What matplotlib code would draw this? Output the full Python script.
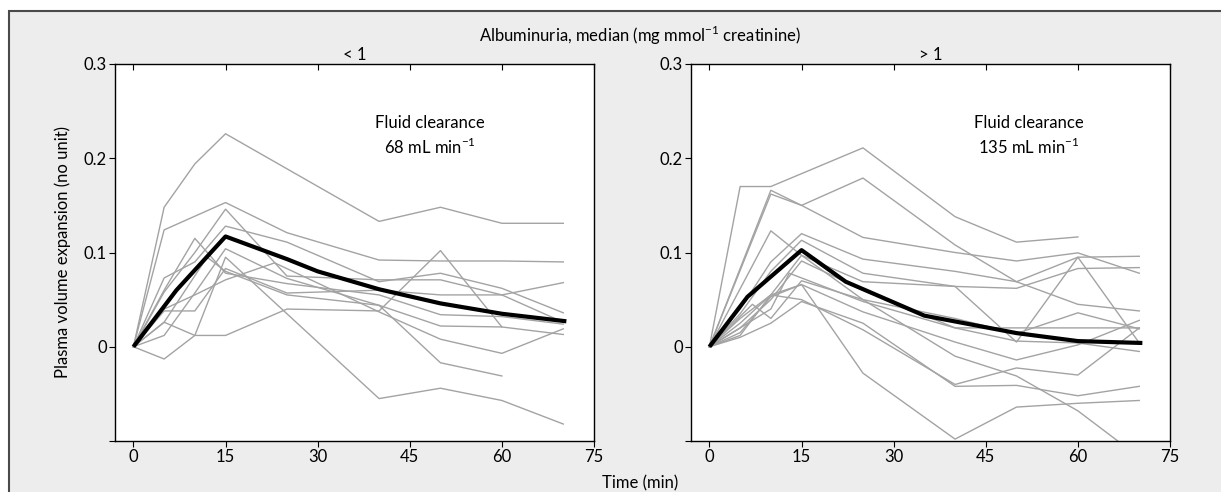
import matplotlib
matplotlib.use("Agg")
import matplotlib.pyplot as plt
from matplotlib.patches import Rectangle
from matplotlib.ticker import FixedLocator, FixedFormatter

plt.rcParams["font.family"] = ["Lato", "DejaVu Sans"]
plt.rcParams["mathtext.fontset"] = "custom"
plt.rcParams["mathtext.rm"] = "Lato"

# individual subjects, albuminuria < 1
left_times = [
    [0, 5, 10, 15, 40, 50, 60, 70],
    [0, 5, 15, 25, 40, 50, 60, 70],
    [0, 5, 10, 15, 25, 40, 50, 60],
    [0, 5, 10, 15, 25, 40, 50, 60, 70],
    [0, 5, 10, 15, 25, 40, 50, 60, 70],
    [0, 5, 10, 15, 25, 40, 50, 60, 70],
    [0, 5, 10, 15, 25, 40, 50, 60, 70],
    [0, 5, 10, 15, 25, 40, 50, 60, 70],
    [0, 5, 10, 15, 23, 40, 50, 60, 70],
    [0, 5, 12, 15, 25, 40, 50, 60],
    [0, 5, 10, 15, 40, 50, 60, 70],
]
left_values = [
    [0, .148, .194, .226, .133, .148, .131, .131],
    [0, .124, .153, .121, .092, .091, .091, .090],
    [0, .026, .012, .012, .040, .038, .102, .021],
    [0, .073, .090, .128, .111, .069, .078, .062, .036],
    [0, .058, .100, .146, .075, .071, .071, .055, .068],
    [0, .038, .038, .083, .057, .060, .055, .055, .026],
    [0, .060, .115, .078, .067, .055, .034, .032, .024],
    [0, .012, .057, .104, .0725, .044, .022, .021, .013],
    [0, .040, .055, .071, .089, .037, .008, -.007, .019],
    [0, .026, .095, .080, .055, .044, -.017, -.031],
    [0, -.013, .012, .095, -.055, -.044, -.057, -.082],
]
left_model_t = [0, 7, 15, 25, 30, 40, 50, 60, 70.5]
left_model_v = [0, .060, .117, .093, .080, .061, .046, .035, .027]

# individual subjects, albuminuria > 1
right_times = [
    [0, 5, 10, 25, 40, 50, 60],
    [0, 10, 15, 25, 40, 50, 60, 70],
    [0, 10, 15, 25, 40, 50, 60, 70],
    [0, 5, 10, 15, 25, 40, 50, 60, 70],
    [0, 10, 15, 25, 40, 50, 60, 66.5],
    [0, 5, 10, 15, 25, 40, 50, 60, 70],
    [0, 5, 10, 15, 25, 40, 50, 60, 70],
    [0, 5, 10, 15, 25, 40, 50, 60, 70],
    [0, 5, 10, 13, 25, 40, 50, 60, 70],
    [0, 7, 10, 15, 25, 40, 50, 60, 70],
    [0, 5, 10, 15, 25, 40, 50, 60, 70],
    [0, 5, 10, 15, 25, 40, 50, 60, 70],
    [0, 5, 10, 15, 25, 40, 50, 60, 70],
    [0, 5, 10, 15, 25, 40, 50, 60, 70],
]
right_values = [
    [0, .170, .170, .211, .138, .111, .1165],
    [0, .166, .150, .116, .100, .091, .0996, .078],
    [0, .162, .150, .179, .108, .069, .045, .038],
    [0, .030, .055, .066, -.028, -.098, -.064, -.060, -.057],
    [0, .123, .097, .050, -.010, -.031, -.068, -.100],
    [0, .040, .090, .120, .093, .080, .069, .095, .096],
    [0, .035, .080, .113, .078, .064, .062, .083, .084],
    [0, .025, .055, .097, .069, .064, .005, .095, .004],
    [0, .020, .040, .078, .048, .020, .020, .020, .020],
    [0, .045, .030, .070, .050, .030, .014, .036, .019],
    [0, .015, .053, .066, .037, .005, -.014, .002, .028],
    [0, .010, .025, .048, .025, -.042, -.041, -.052, -.042],
    [0, .012, .055, .050, .018, -.040, -.0225, -.030, .020],
    [0, .020, .050, .091, .060, .020, .006, .004, -.005],
]
right_model_t = [0, 6.2, 15, 22.2, 35, 50, 60, 70.5]
right_model_v = [0, .053, .1025, .069, .033, .0145, .006, .004]

panel_titles = ["< 1", "> 1"]
clearances = ["68", "135"]
xticks = [0, 15, 30, 45, 60, 75]
yticks = [-0.1, 0, 0.1, 0.2, 0.3]
ytick_labels = ["", "0", "0.1", "0.2", "0.3"]

W, H = 1221, 492
fig = plt.figure(figsize=(W / 100, H / 100), dpi=100, facecolor="white")
fig.patches.append(Rectangle((9 / W, -0.1), 1.2, 1 - 11 / H + 0.1, transform=fig.transFigure,
                             facecolor="#ecedec", edgecolor="#4a4a4a", linewidth=1.5, zorder=-10))

grey = "#a3a3a3"
fs = 12
axes = [fig.add_axes([115 / W, 1 - 441 / H, 479 / W, 377 / H]),
        fig.add_axes([691 / W, 1 - 441 / H, 479 / W, 377 / H])]
data = [(left_times, left_values, left_model_t, left_model_v),
        (right_times, right_values, right_model_t, right_model_v)]

for i, ax in enumerate(axes):
    times, values, mt, mv = data[i]
    ax.set_facecolor("white")
    for t, v in zip(times, values):
        ax.plot(t, v, color=grey, lw=1.0)
    ax.plot(mt, mv, color="black", lw=3.0, solid_capstyle="butt")
    ax.set_xlim(-3, 75)
    ax.set_ylim(-0.1, 0.3)
    ax.xaxis.set_major_locator(FixedLocator(xticks))
    ax.yaxis.set_major_locator(FixedLocator(yticks))
    ax.yaxis.set_major_formatter(FixedFormatter(ytick_labels))
    ax.tick_params(axis="x", top=True, bottom=True, length=4, labelsize=fs, pad=2)
    ax.tick_params(axis="y", direction="out", length=4, labelsize=fs, pad=2)
    for s in ax.spines.values():
        s.set_linewidth(1.0)
    ax.set_title(panel_titles[i], fontsize=fs, pad=3)
    xt = 48.3 if i == 0 else 52
    ax.text(xt, 0.237, "Fluid clearance", ha="center", va="center", fontsize=fs)
    ax.text(xt, 0.212, clearances[i] + " mL min$^{-1}$", ha="center", va="center", fontsize=fs)

# bottom ticks point outward, top ticks inward
for ax in axes:
    for tk in ax.xaxis.get_major_ticks():
        tk.tick1line.set_marker(matplotlib.lines.TICKDOWN)
        tk.tick2line.set_marker(matplotlib.lines.TICKDOWN)

axes[0].set_ylabel("Plasma volume expansion (no unit)", fontsize=fs, labelpad=9)
fig.text(640 / W, 1 - 483 / H, "Time (min)", ha="center", va="center", fontsize=fs)
fig.text(640 / W, 1 - 35 / H, "Albuminuria, median (mg mmol$^{-1}$ creatinine)",
         ha="center", va="center", fontsize=fs)

fig.savefig("out.png", dpi=100, facecolor=fig.get_facecolor())
